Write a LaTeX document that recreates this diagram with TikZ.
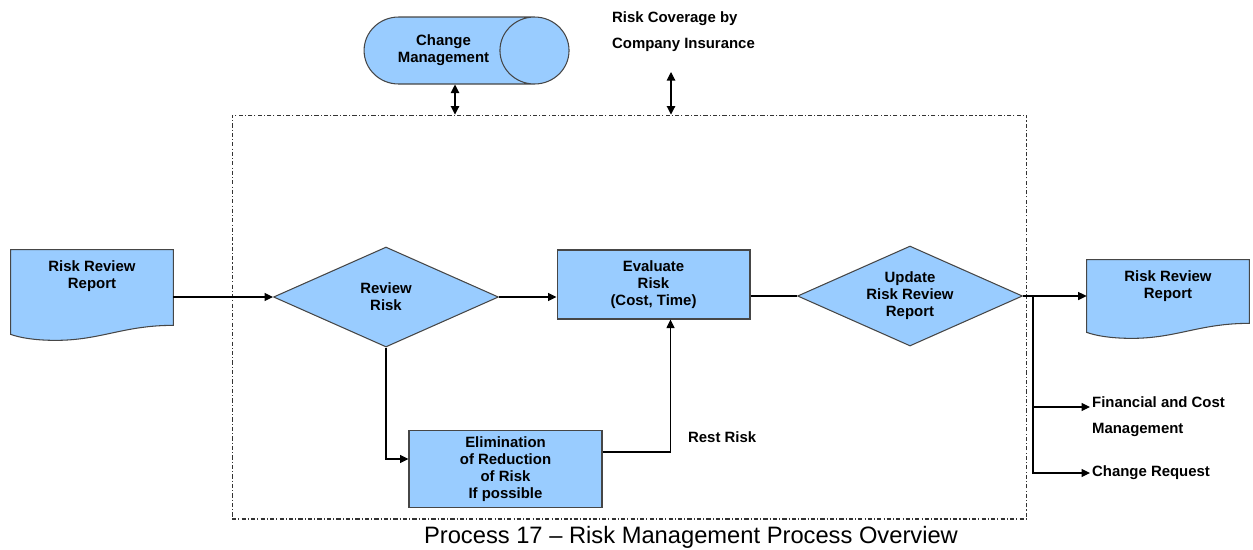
\documentclass[tikz,border=0pt]{standalone}
\usepackage{fontspec}
\setmainfont{Liberation Sans}
\usepackage{tikz}
\usetikzlibrary{shapes.geometric,arrows.meta,positioning,calc,backgrounds}
\definecolor{boxblue}{RGB}{153,204,255}
\definecolor{edgegray}{RGB}{70,70,70}
\tikzset{
    lbl/.style={font=\fontsize{8.5}{9.7}\selectfont\bfseries, align=center},
    procstep/.style={rectangle, draw=edgegray, line width=0.6pt, fill=boxblue, lbl, minimum width=3.86cm, inner sep=1pt},
    decision/.style={diamond, draw=edgegray, line width=0.6pt, fill=boxblue, lbl, aspect=2.25, minimum width=4.5cm, minimum height=2cm, inner sep=0pt},
    report/.style={rectangle, minimum width=3.24cm, inner sep=0pt},
    reporttext/.style={anchor=north, lbl, inner sep=0pt, yshift=-0.22cm},
    store/.style={cylinder, draw=edgegray, line width=0.6pt, fill=boxblue, lbl, minimum width=1.34cm, minimum height=4.1cm, aspect=2, inner sep=1pt},
    freetext/.style={font=\fontsize{8.5}{14.8}\selectfont\bfseries, align=left, inner sep=1pt},
    scopebox/.style={draw=black!80, line width=0.6pt, dash pattern=on 2.4pt off 1.2pt on 0.6pt off 1.2pt},
    flow/.style={-{Triangle[length=1.7mm, width=1.6mm]}, line width=0.6pt},
    link/.style={line width=0.6pt},
    twoway/.style={{Triangle[length=1.7mm, width=1.7mm]}-{Triangle[length=1.7mm, width=1.7mm]}, line width=0.6pt},
}
% document outline with a wavy bottom edge
\newcommand{\reportshape}[1]{%
    \filldraw[draw=edgegray, line width=0.6pt, fill=boxblue]
        (#1.north west) -- (#1.north east) -- ($(#1.south east)+(0,-15)$)
        .. controls +(-50,0) and +(45,0) .. ($(#1.south west)+(45,0)$)
        .. controls +(-22,0) and +(8,3) .. ($(#1.south west)+(0,-6)$) -- cycle;}

\begin{document}
\begin{tikzpicture}[x=0.02cm, y=-0.02cm]
    \useasboundingbox (0,0) rectangle (1253,549);

    \node[scopebox, minimum width=15.9cm, minimum height=8.08cm] (proc) at (629.5,317) {};

    \node[report, minimum height=1.8cm, label={[reporttext]north:{Risk Review\\Report}}] (rrin) at (92,295) {};
    \node[decision] (rev) at (386,297) {Review\\Risk};
    \node[procstep, minimum height=1.38cm] (eval) at (653.5,284.5) {Evaluate\\Risk\\(Cost, Time)};
    \node[decision] (upd) at (910,296) {Update\\Risk Review\\Report};
    \node[report, minimum height=1.56cm, label={[reporttext]north:{Risk Review\\Report}}] (rrout) at (1168,299) {};
    \node[procstep, minimum height=1.55cm] (elim) at (505.5,469) {Elimination\\of Reduction\\of Risk\\If possible};
    \node[store] (chm) at (443.5,50.5) {Change\\Management};

    \node[freetext, anchor=west] (cov) at (610,32) {Risk Coverage by\\Company Insurance};
    \node[freetext, anchor=west] (rest) at (686,437) {Rest Risk};
    \node[freetext, anchor=west] (fin) at (1090,417) {Financial and Cost\\Management};
    \node[freetext, anchor=west] (chg) at (1090,473) {Change Request};
    \node[font=\fontsize{13.5}{16}\selectfont] (cap) at (691,537) {Process 17 -- Risk Management Process Overview};

    \begin{scope}[on background layer]
        \reportshape{rrin}
        \reportshape{rrout}
    \end{scope}

    \coordinate (br) at (1033,0);
    \coordinate (cmx) at (455,0);
    \coordinate (insx) at (671,72);

    \draw[flow] (rrin.east |- rev.west) -- (rev.west);
    \draw[flow] (rev.east) -- (rev.east -| eval.west);
    \draw[link] (eval.east |- upd.west) -- (upd.west);
    \draw[flow] (upd.east) -- (upd.east -| rrout.west);
    \draw[flow] (upd.east -| br) |- ($(fin.west)+(0,-10)$);
    \draw[flow] (upd.east -| br) |- (chg.west);
    \draw[flow] (rev.south) |- ($(elim.west)+(0,-10)$);
    \draw[flow] ($(elim.east)+(0,-17)$) -| ($(eval.south)+(17,0)$);
    \draw[twoway] (chm.south -| cmx) -- (proc.north -| cmx);
    \draw[twoway] (insx) -- (proc.north -| insx);
\end{tikzpicture}
\end{document}
